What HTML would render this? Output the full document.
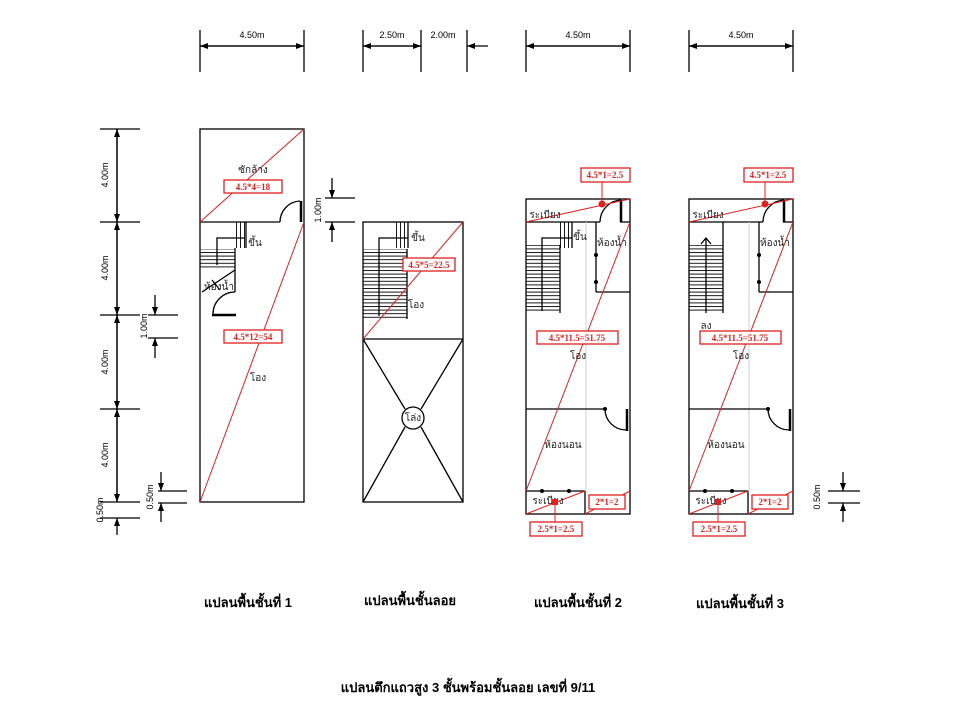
<!DOCTYPE html>
<html><head><meta charset="utf-8"><style>
html,body{margin:0;padding:0;background:#fff;}
svg{display:block;font-family:"Liberation Sans","DejaVu Sans",sans-serif;}
.w{stroke:#000;stroke-width:1.3;fill:none}
.r{stroke:#e02020;stroke-width:1;fill:none}
.rb{stroke:#e02020;stroke-width:1.3;fill:#fff}
.rt{fill:#e02020;font-family:"Liberation Serif",serif;font-weight:bold;font-size:9px;text-anchor:middle}
.t{font-size:10px;text-anchor:middle;fill:#222}
.d{font-size:9px;fill:#000}
.g{stroke:#ccc;stroke-width:1}
.h{font-size:13px;font-weight:bold;text-anchor:middle}
</style></head><body>
<svg width="960" height="720" viewBox="0 0 960 720" xmlns="http://www.w3.org/2000/svg">
<defs>
<marker id="a" markerWidth="8" markerHeight="6" refX="8" refY="3" orient="auto" markerUnits="userSpaceOnUse"><path d="M0,0 L8,3 L0,6z" fill="#000"/></marker>
<pattern id="st" width="10" height="3.6" patternUnits="userSpaceOnUse"><line x1="0" y1="0.5" x2="10" y2="0.5" stroke="#000" stroke-width="0.9"/></pattern>
<pattern id="sv" width="4" height="10" patternUnits="userSpaceOnUse"><line x1="0.5" y1="0" x2="0.5" y2="10" stroke="#000" stroke-width="0.9"/></pattern>
</defs>

<!-- top dimensions -->
<g class="w" stroke-width="1.2">
<line x1="200" y1="30" x2="200" y2="72"/><line x1="304" y1="30" x2="304" y2="72"/>
<line x1="200" y1="46" x2="304" y2="46" marker-end="url(#a)"/><line x1="304" y1="46" x2="200" y2="46" marker-end="url(#a)"/>
<line x1="363" y1="30" x2="363" y2="72"/><line x1="421" y1="30" x2="421" y2="72"/><line x1="467" y1="30" x2="467" y2="72"/>
<line x1="363" y1="46" x2="421" y2="46" marker-end="url(#a)"/><line x1="421" y1="46" x2="363" y2="46" marker-end="url(#a)"/>
<line x1="488" y1="46" x2="467" y2="46" marker-end="url(#a)"/>
<line x1="526" y1="30" x2="526" y2="72"/><line x1="630" y1="30" x2="630" y2="72"/>
<line x1="526" y1="46" x2="630" y2="46" marker-end="url(#a)"/><line x1="630" y1="46" x2="526" y2="46" marker-end="url(#a)"/>
<line x1="689" y1="30" x2="689" y2="72"/><line x1="793" y1="30" x2="793" y2="72"/>
<line x1="689" y1="46" x2="793" y2="46" marker-end="url(#a)"/><line x1="793" y1="46" x2="689" y2="46" marker-end="url(#a)"/>
</g>
<text class="d" x="252" y="38" text-anchor="middle">4.50m</text>
<text class="d" x="392" y="38" text-anchor="middle">2.50m</text>
<text class="d" x="443" y="38" text-anchor="middle">2.00m</text>
<text class="d" x="578" y="38" text-anchor="middle">4.50m</text>
<text class="d" x="741" y="38" text-anchor="middle">4.50m</text>

<!-- left dimensions -->
<g class="w" stroke-width="1.2">
<line x1="100" y1="129" x2="140" y2="129"/><line x1="100" y1="222" x2="140" y2="222"/><line x1="100" y1="315" x2="140" y2="315"/>
<line x1="100" y1="409" x2="140" y2="409"/><line x1="100" y1="502" x2="140" y2="502"/><line x1="100" y1="518" x2="140" y2="518"/>
<line x1="117" y1="129" x2="117" y2="222" marker-end="url(#a)"/><line x1="117" y1="222" x2="117" y2="129" marker-end="url(#a)"/>
<line x1="117" y1="222" x2="117" y2="315" marker-end="url(#a)"/><line x1="117" y1="315" x2="117" y2="222" marker-end="url(#a)"/>
<line x1="117" y1="315" x2="117" y2="409" marker-end="url(#a)"/><line x1="117" y1="409" x2="117" y2="315" marker-end="url(#a)"/>
<line x1="117" y1="409" x2="117" y2="502" marker-end="url(#a)"/><line x1="117" y1="502" x2="117" y2="409" marker-end="url(#a)"/>
<line x1="117" y1="535" x2="117" y2="518" marker-end="url(#a)"/>
<line x1="148" y1="315" x2="178" y2="315"/><line x1="148" y1="338" x2="178" y2="338"/>
<line x1="155" y1="295" x2="155" y2="315" marker-end="url(#a)"/><line x1="155" y1="358" x2="155" y2="338" marker-end="url(#a)"/>
<line x1="158" y1="491" x2="187" y2="491"/><line x1="158" y1="503" x2="187" y2="503"/>
<line x1="161" y1="472" x2="161" y2="491" marker-end="url(#a)"/><line x1="161" y1="522" x2="161" y2="503" marker-end="url(#a)"/>
<line x1="325" y1="198" x2="355" y2="198"/><line x1="325" y1="222" x2="355" y2="222"/>
<line x1="332" y1="178" x2="332" y2="198" marker-end="url(#a)"/><line x1="332" y1="242" x2="332" y2="222" marker-end="url(#a)"/>
<line x1="828" y1="491" x2="860" y2="491"/><line x1="828" y1="503" x2="860" y2="503"/>
<line x1="843" y1="472" x2="843" y2="491" marker-end="url(#a)"/><line x1="843" y1="522" x2="843" y2="503" marker-end="url(#a)"/>
</g>
<g class="d" text-anchor="middle">
<text transform="translate(108,175) rotate(-90)">4.00m</text>
<text transform="translate(108,268) rotate(-90)">4.00m</text>
<text transform="translate(108,362) rotate(-90)">4.00m</text>
<text transform="translate(108,455) rotate(-90)">4.00m</text>
<text transform="translate(103,510) rotate(-90)">0.50m</text>
<text transform="translate(147,326) rotate(-90)">1.00m</text>
<text transform="translate(153,497) rotate(-90)">0.50m</text>
<text transform="translate(321,210) rotate(-90)">1.00m</text>
<text transform="translate(820,497) rotate(-90)">0.50m</text>
</g>

<!-- PLAN 1 -->
<rect class="w" x="200" y="129" width="104" height="373"/>
<line class="w" x1="200" y1="222" x2="280" y2="222"/>
<path class="w" d="M280,222 A21,21 0 0 1 300,201"/>
<line x1="301" y1="201" x2="301" y2="222" stroke="#000" stroke-width="2.5"/>
<rect x="234" y="222" width="12" height="26" fill="url(#sv)"/>
<line class="w" x1="246" y1="222" x2="246" y2="248"/>
<rect x="200" y="249" width="35" height="21" fill="url(#st)"/>
<path class="w" stroke-width="1" d="M245,238 H217 V265"/>
<line class="w" x1="235" y1="248" x2="235" y2="292"/>
<line class="w" x1="235" y1="270" x2="202" y2="292"/>
<line class="w" x1="212" y1="280" x2="220" y2="290"/>
<path class="w" d="M235,292 A22,22 0 0 0 213,314"/>
<line x1="212" y1="315" x2="236" y2="315" stroke="#000" stroke-width="2.5"/>
<line class="r" x1="304" y1="129" x2="200" y2="222"/>
<line class="r" x1="304" y1="222" x2="200" y2="502"/>
<text class="t" x="253" y="173">ซักล้าง</text>
<rect class="rb" x="224" y="180" width="58" height="13"/><text class="rt" x="253" y="190">4.5*4=18</text>
<text class="t" x="255" y="246">ขึ้น</text>
<text class="t" x="219" y="290">ห้องน้ำ</text>
<rect class="rb" x="224" y="330" width="58" height="13"/><text class="rt" x="253" y="340">4.5*12=54</text>
<text class="t" x="258" y="381">โอง</text>

<!-- LOFT -->
<rect class="w" x="363" y="222" width="100" height="280"/>
<line class="w" x1="363" y1="339" x2="463" y2="339"/>
<line class="w" x1="363" y1="339" x2="405" y2="409"/><line class="w" x1="463" y1="339" x2="421" y2="409"/>
<line class="w" x1="363" y1="502" x2="405" y2="427"/><line class="w" x1="463" y1="502" x2="421" y2="427"/>
<circle class="w" cx="413" cy="418" r="11" fill="#fff"/>
<text class="t" x="413" y="421" font-size="9">โล่ง</text>
<rect x="396" y="222" width="12" height="26" fill="url(#sv)"/>
<line class="w" x1="408" y1="222" x2="408" y2="248"/>
<rect x="363" y="249" width="44" height="70" fill="url(#st)"/>
<line class="w" x1="407" y1="249" x2="407" y2="319"/>
<path class="w" stroke-width="1" d="M408,238 H379 V316"/>
<line class="r" x1="463" y1="222" x2="363" y2="339"/>
<text class="t" x="418" y="241">ขึ้น</text>
<rect class="rb" x="403" y="258" width="52" height="13"/><text class="rt" x="429" y="268">4.5*5=22.5</text>
<text class="t" x="416" y="308">โอง</text>

<!-- PLAN 2 & 3 -->
<g id="p2">
<rect class="w" x="526" y="199" width="104" height="315"/>
<line class="w" x1="526" y1="222" x2="600" y2="222"/><line class="w" x1="620" y1="222" x2="630" y2="222"/>
<path class="w" d="M600,222 A22,22 0 0 1 621,200"/>
<line x1="621" y1="200" x2="621" y2="222" stroke="#000" stroke-width="2.5"/>
<line class="w" x1="596" y1="222" x2="596" y2="292"/><line class="w" x1="596" y1="292" x2="630" y2="292"/>
<circle cx="596" cy="255" r="2"/><circle cx="596" cy="282" r="2"/>
<line class="g" x1="586" y1="222" x2="586" y2="491"/>
<line class="w" x1="526" y1="409" x2="605" y2="409"/>
<circle cx="605" cy="409" r="2"/>
<path class="w" d="M605,409 A21,21 0 0 0 626,430"/>
<line x1="627" y1="409" x2="627" y2="431" stroke="#000" stroke-width="2.5"/>
<line class="w" x1="526" y1="491" x2="585" y2="491"/><line class="w" x1="585" y1="491" x2="585" y2="514"/>
<circle cx="542" cy="491" r="2"/><circle cx="569" cy="491" r="2"/>
<line class="r" x1="630" y1="199" x2="526" y2="222"/>
<line class="r" x1="630" y1="222" x2="526" y2="491"/>
<line class="r" x1="526" y1="514" x2="585" y2="491"/>
<line class="r" x1="585" y1="514" x2="630" y2="491"/>
<text class="t" x="612" y="246">ห้องน้ำ</text>
<text class="t" x="578" y="359">โอง</text>
<text class="t" x="563" y="448">ห้องนอน</text>
<text class="t" x="548" y="504">ระเบียง</text>
<text class="t" x="545" y="218">ระเบียง</text>
<line x1="602" y1="182" x2="602" y2="204" stroke="#e02020"/>
<circle cx="602" cy="204" r="3.5" fill="#e02020"/>
<rect class="rb" x="581" y="168" width="49" height="14"/><text class="rt" x="605" y="178">4.5*1=2.5</text>
<rect class="rb" x="537" y="331" width="81" height="13"/><text class="rt" x="577" y="341">4.5*11.5=51.75</text>
<line x1="555" y1="502" x2="555" y2="522" stroke="#e02020"/>
<rect x="552" y="499" width="6" height="6" fill="#e02020"/>
<rect class="rb" x="530" y="522" width="52" height="14"/><text class="rt" x="556" y="532">2.5*1=2.5</text>
<rect class="rb" x="589" y="495" width="36" height="14"/><text class="rt" x="607" y="505">2*1=2</text>
</g>
<!-- plan 2 stairs -->
<rect x="560" y="222" width="12" height="26" fill="url(#sv)"/>
<line class="w" x1="572" y1="222" x2="572" y2="248"/>
<rect x="526" y="245" width="34" height="68" fill="url(#st)"/>
<line class="w" x1="560" y1="245" x2="560" y2="313"/>
<path class="w" stroke-width="1" d="M572,238 H542 V311"/>
<text class="t" x="580" y="240">ขึ้น</text>
<!-- plan 3 -->
<use href="#p2" x="163"/>
<rect x="689" y="245" width="34" height="68" fill="url(#st)"/>
<line class="w" x1="723" y1="222" x2="723" y2="313"/>
<path class="w" stroke-width="1" d="M706,313 V239 M701,244 L706,238 L711,244"/>
<text class="t" x="706" y="329">ลง</text>

<!-- titles -->
<text class="h" x="248" y="607">แปลนพื้นชั้นที่ 1</text>
<text class="h" x="410" y="605">แปลนพื้นชั้นลอย</text>
<text class="h" x="578" y="607">แปลนพื้นชั้นที่ 2</text>
<text class="h" x="740" y="608">แปลนพื้นชั้นที่ 3</text>
<text class="h" x="468" y="692" font-size="14">แปลนตึกแถวสูง 3 ชั้นพร้อมชั้นลอย เลขที่ 9/11</text>
</svg>
</body></html>
